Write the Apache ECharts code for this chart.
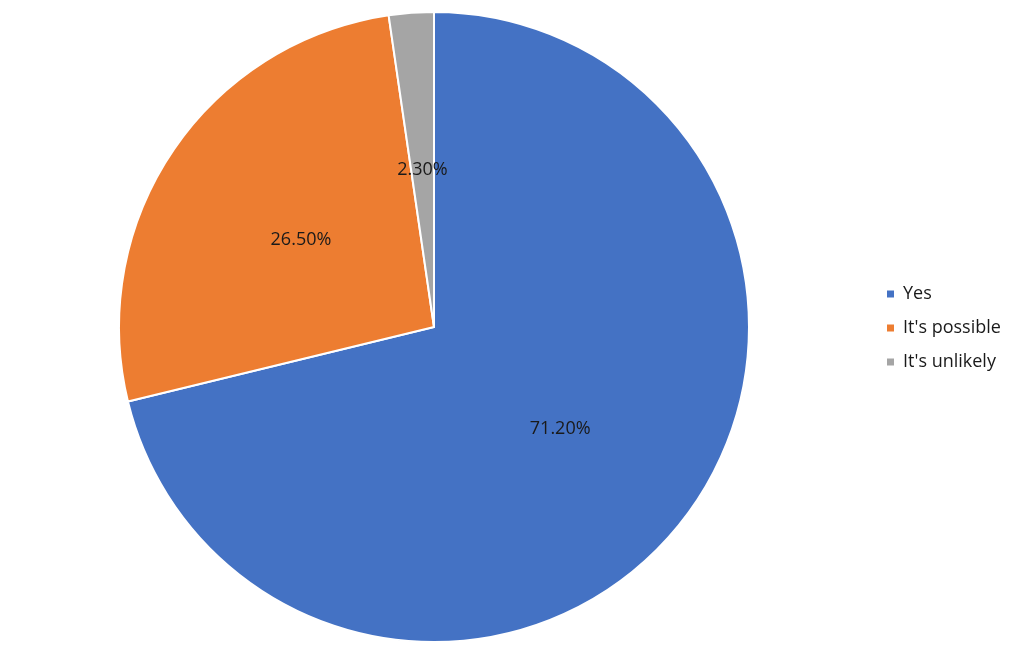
<!DOCTYPE html>
<html>
<head>
<meta charset="utf-8">
<script src="https://cdn.jsdelivr.net/npm/echarts@6/dist/echarts.min.js"></script>
<style>html,body{margin:0;padding:0;background:#fff;}#c{width:1013px;height:651px;}</style>
</head>
<body>
<div id="c"></div>
<script>
const categories = ["Yes", "It's possible", "It's unlikely"];
const values = [71.2, 26.5, 2.3];
const colors = ['#4472C4', '#ED7D31', '#A5A5A5'];

const chart = echarts.init(document.getElementById('c'));
chart.setOption({
  animation: false,
  color: colors,
  legend: {
    orient: 'vertical',
    left: 885,
    top: 285,
    padding: 0,
    itemWidth: 9,
    itemHeight: 9,
    itemGap: 16,
    icon: 'rect',
    textStyle: { fontFamily: 'Open Sans', fontSize: 18, color: '#1a1a1a', padding: [0, 0, 0, 3] },
    data: categories
  },
  series: [{
    type: 'pie',
    center: [434, 327],
    radius: [0, 315],
    startAngle: 90,
    clockwise: true,
    itemStyle: { borderColor: '#fff', borderWidth: 2 },
    label: {
      position: 'inside',
      formatter: p => '{a|' + p.value.toFixed(2) + '%}',
      rich: { a: { fontFamily: 'Open Sans', fontSize: 18, color: '#1a1a1a', padding: [6, 0, 0, 0] } }
    },
    labelLine: { show: false },
    data: categories.map((c, i) => ({ name: c, value: values[i] }))
  }]
});
</script>
</body>
</html>
